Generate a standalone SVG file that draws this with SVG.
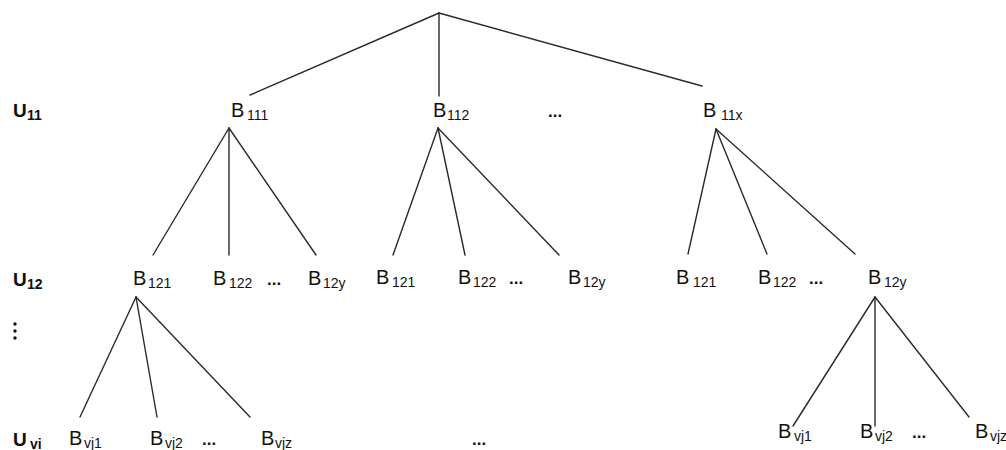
<svg xmlns="http://www.w3.org/2000/svg" width="1006" height="450" viewBox="0 0 1006 450">
  <style>
    .lbl { font-family: "Liberation Sans", Arial, sans-serif; font-size: 20px; fill: #111; }
    .sub { font-size: 14px; }
    .lvl { font-family: "Liberation Sans", Arial, sans-serif; font-size: 19px; font-weight: bold; fill: #111; }
    .lvl .sub { font-size: 14px; }
    .dots { font-family: "Liberation Sans", Arial, sans-serif; font-size: 17px; font-weight: bold; fill: #111; }
    .edge { stroke: #2a2a2a; stroke-width: 1.4; fill: none; stroke-linecap: round; }
  </style>
  <rect width="1006" height="450" fill="#ffffff"/>

  <!-- connectors -->
  <g id="connectors" class="edge">
    <!-- root -->
    <line x1="439" y1="13" x2="250" y2="95"/>
    <line x1="439" y1="13" x2="439" y2="96"/>
    <line x1="439" y1="13" x2="702" y2="86"/>
    <!-- B111 -->
    <line x1="229" y1="128" x2="153" y2="255"/>
    <line x1="229" y1="128" x2="229" y2="255"/>
    <line x1="229" y1="128" x2="316" y2="255"/>
    <!-- B112 -->
    <line x1="438" y1="128" x2="393" y2="255"/>
    <line x1="438" y1="128" x2="465" y2="255"/>
    <line x1="438" y1="128" x2="559" y2="255"/>
    <!-- B11x -->
    <line x1="716" y1="129" x2="688" y2="254"/>
    <line x1="716" y1="129" x2="767" y2="254"/>
    <line x1="716" y1="129" x2="855" y2="254"/>
    <!-- B121 (left) -->
    <line x1="136" y1="297" x2="80" y2="417"/>
    <line x1="136" y1="297" x2="157" y2="417"/>
    <line x1="136" y1="297" x2="250" y2="417"/>
    <!-- B12y (right) -->
    <line x1="875" y1="297" x2="793" y2="426"/>
    <line x1="875" y1="297" x2="875" y2="426"/>
    <line x1="875" y1="297" x2="969" y2="417"/>
  </g>

  <!-- level labels -->
  <g id="level-U11"><text class="lvl" x="13" y="117">U<tspan class="sub" x="27" dy="3">11</tspan></text></g>
  <g id="level-U12"><text class="lvl" x="13" y="286">U<tspan class="sub" x="27" dy="3">12</tspan></text></g>
  <g id="level-gap">
    <circle cx="15" cy="324" r="1.7" fill="#111"/>
    <circle cx="15" cy="331" r="1.7" fill="#111"/>
    <circle cx="15" cy="338" r="1.7" fill="#111"/>
  </g>
  <g id="level-Uvi"><text class="lvl" x="13" y="446">U<tspan class="sub" x="30" dy="3">vi</tspan></text></g>

  <!-- first level -->
  <g id="n-B111"><text class="lbl" x="231" y="117">B<tspan class="sub" x="247" dy="3">111</tspan></text></g>
  <g id="n-B112"><text class="lbl" x="433" y="117">B<tspan class="sub" x="447" dy="3">112</tspan></text></g>
  <g id="n-dots1"><text class="dots" x="548" y="117">...</text></g>
  <g id="n-B11x"><text class="lbl" x="703" y="117">B<tspan class="sub" x="721" dy="3">11x</tspan></text></g>

  <!-- second level -->
  <g id="n-B121-a"><text class="lbl" x="133" y="285">B<tspan class="sub" x="148" dy="3">121</tspan></text></g>
  <g id="n-B122-a"><text class="lbl" x="213" y="285">B<tspan class="sub" x="229" dy="3">122</tspan></text></g>
  <g id="n-dots2a"><text class="dots" x="267" y="285">...</text></g>
  <g id="n-B12y-a"><text class="lbl" x="308" y="285">B<tspan class="sub" x="323" dy="3">12y</tspan></text></g>

  <g id="n-B121-b"><text class="lbl" x="376" y="284">B<tspan class="sub" x="392" dy="3">121</tspan></text></g>
  <g id="n-B122-b"><text class="lbl" x="458" y="284">B<tspan class="sub" x="473" dy="3">122</tspan></text></g>
  <g id="n-dots2b"><text class="dots" x="509" y="284">...</text></g>
  <g id="n-B12y-b"><text class="lbl" x="568" y="284">B<tspan class="sub" x="583" dy="3">12y</tspan></text></g>

  <g id="n-B121-c"><text class="lbl" x="676" y="284">B<tspan class="sub" x="693" dy="3">121</tspan></text></g>
  <g id="n-B122-c"><text class="lbl" x="758" y="284">B<tspan class="sub" x="773" dy="3">122</tspan></text></g>
  <g id="n-dots2c"><text class="dots" x="809" y="284">...</text></g>
  <g id="n-B12y-c"><text class="lbl" x="868" y="284">B<tspan class="sub" x="884" dy="3">12y</tspan></text></g>

  <!-- lowest level -->
  <g id="n-Bvj1-a"><text class="lbl" x="69" y="445">B<tspan class="sub" x="84" dy="3">vj1</tspan></text></g>
  <g id="n-Bvj2-a"><text class="lbl" x="150" y="445">B<tspan class="sub" x="165" dy="3">vj2</tspan></text></g>
  <g id="n-dots3a"><text class="dots" x="202" y="445">...</text></g>
  <g id="n-Bvjz-a"><text class="lbl" x="261" y="445">B<tspan class="sub" x="275" dy="3">vjz</tspan></text></g>
  <g id="n-dots3m"><text class="dots" x="472" y="445">...</text></g>

  <g id="n-Bvj1-b"><text class="lbl" x="778" y="438">B<tspan class="sub" x="794" dy="3">vj1</tspan></text></g>
  <g id="n-Bvj2-b"><text class="lbl" x="860" y="438">B<tspan class="sub" x="875" dy="3">vj2</tspan></text></g>
  <g id="n-dots3b"><text class="dots" x="912" y="438">...</text></g>
  <g id="n-Bvjz-b"><text class="lbl" x="975" y="438">B<tspan class="sub" x="990" dy="3">vjz</tspan></text></g>
</svg>
